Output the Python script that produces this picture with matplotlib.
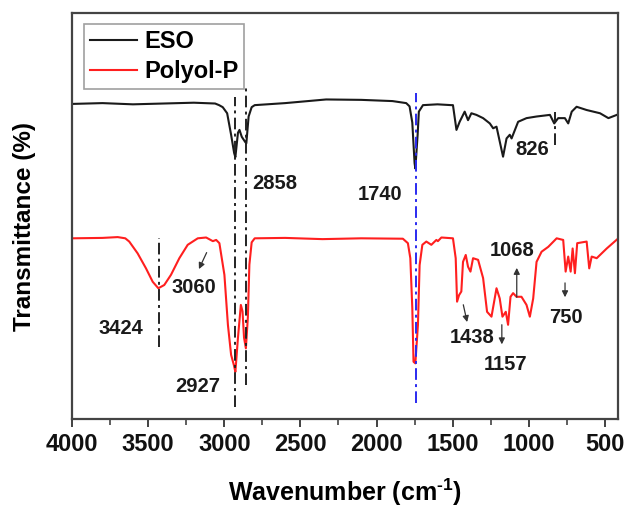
import matplotlib
matplotlib.use('Agg')
import matplotlib.pyplot as plt
from matplotlib.ticker import MultipleLocator

plt.rcParams['font.family'] = ['Liberation Sans', 'DejaVu Sans']
plt.rcParams['font.weight'] = 'bold'
plt.rcParams['mathtext.fontset'] = 'custom'
plt.rcParams['mathtext.rm'] = 'Liberation Sans:bold'
plt.rcParams['mathtext.default'] = 'rm'

# spectra (wavenumber cm-1, relative transmittance)
eso_wn = [4000, 3800, 3600, 3400, 3200, 3060, 3034, 3010, 2981, 2955, 2935, 2927,
          2910, 2900, 2885, 2862, 2855, 2840, 2820, 2800, 2600, 2331, 2100, 1895,
          1805, 1783, 1765, 1750, 1745, 1730, 1722, 1695, 1600, 1508, 1498, 1475,
          1454, 1421, 1399, 1377, 1344, 1300, 1256, 1234, 1212, 1169, 1146, 1125,
          1113, 1070, 1015, 949, 861, 833, 807, 763, 741, 718, 686, 620, 532, 477, 422]
eso_t = [77.6, 77.8, 77.5, 77.7, 77.9, 77.7, 77.3, 76.8, 75.3, 70.0, 65.5, 64.5,
         70.5, 71.2, 69.5, 68.2, 67.9, 74.5, 76.8, 77.3, 77.8, 78.7, 78.6, 78.3,
         77.8, 77.0, 73.0, 63.0, 61.7, 70.0, 75.7, 77.3, 77.5, 77.3, 77.3, 71.2,
         73.2, 75.7, 73.6, 75.3, 74.9, 74.1, 72.8, 71.6, 72.0, 64.6, 69.1, 70.0,
         69.1, 73.2, 74.1, 74.5, 74.9, 72.8, 74.1, 74.1, 72.8, 75.7, 76.9, 76.1,
         75.3, 74.1, 74.9]

pol_wn = [4000, 3800, 3700, 3650, 3624, 3569, 3514, 3470, 3433, 3394, 3350, 3295,
          3240, 3174, 3119, 3075, 3053, 3032, 2999, 2976, 2955, 2937, 2927, 2910,
          2891, 2880, 2870, 2858, 2845, 2835, 2820, 2800, 2600, 2355, 2100, 1827,
          1794, 1778, 1765, 1757, 1745, 1728, 1717, 1699, 1673, 1640, 1607, 1597,
          1574, 1498, 1480, 1471, 1458, 1443, 1432, 1414, 1399, 1383, 1366, 1333,
          1300, 1274, 1245, 1212, 1191, 1173, 1151, 1136, 1120, 1103, 1081, 1048,
          1015, 993, 971, 949, 916, 872, 817, 774, 758, 741, 725, 712, 697, 682,
          620, 603, 587, 554, 488, 412]
pol_t = [44.5, 44.6, 44.8, 44.5, 43.7, 40.8, 37.1, 33.8, 32.2, 33.0, 35.5, 39.6,
         42.9, 44.5, 44.7, 43.8, 44.1, 43.3, 35.5, 23.2, 15.8, 13.3, 11.6, 20.0,
         28.1, 26.5, 20.0, 17.4, 25.0, 38.0, 43.5, 44.5, 44.6, 44.3, 44.5, 44.4,
         43.3, 39.6, 27.3, 14.1, 13.7, 23.2, 37.9, 42.9, 43.7, 42.9, 44.1, 43.8,
         44.7, 44.5, 39.6, 28.9, 30.5, 31.4, 38.7, 40.4, 37.5, 36.3, 39.6, 39.2,
         34.7, 26.4, 25.2, 32.2, 29.7, 25.2, 26.4, 23.2, 30.1, 31.0, 30.1, 30.1,
         28.1, 25.2, 29.7, 38.7, 41.2, 42.4, 44.5, 44.1, 36.3, 40.0, 36.3, 42.0,
         35.9, 43.3, 43.7, 37.1, 40.0, 39.6, 42.0, 44.5]

# marker lines: wavenumber, y from, y to
guide_wn = [3430, 2927, 2858, 826]
guide_lo = [17.7, 3.0, 8.4, 67.5]
guide_hi = [44.6, 79.3, 81.5, 75.6]
c_o_wn, c_o_lo, c_o_hi = 1740, 3.9, 80.3

# peak labels (text, x, y)
peak_text = ['2858', '1740', '826', '3424', '2927']
peak_x = [2818, 1974, 980, 3679, 3172]
peak_y = [58.1, 55.2, 66.3, 22.4, 7.9]

# arrowed labels: text, label pos, arrow tail, arrow head
arr_text = ['3060', '1438', '1157', '1068', '750']
arr_lab = [(3199, 32.3), (1375, 20.0), (1151, 13.3), (1110, 41.6), (756, 25.1)]
arr_tail = [(3108, 41.6), (1434, 28.8), (1177, 23.9), (1079, 29.3), (762, 34.2)]
arr_head = [(3174, 36.3), (1401, 23.2), (1177, 17.7), (1079, 37.9), (762, 29.3)]

fig = plt.figure(figsize=(6.26, 5.07), dpi=100)
ax = fig.add_axes([0.115, 0.1736, 0.872, 0.8008])

ax.plot(eso_wn, eso_t, color='#1a1a1a', lw=1.5, label='ESO')
ax.plot(pol_wn, pol_t, color='#ff1f1f', lw=1.5, label='Polyol-P')

dash = (0, (6, 2.2, 1.5, 2.2))
for w, lo, hi in zip(guide_wn, guide_lo, guide_hi):
    ax.plot([w, w], [lo, hi], color='#222222', lw=1.4, ls=dash)
ax.plot([c_o_wn, c_o_wn], [c_o_lo, c_o_hi], color='#2a2af0', lw=1.4, ls=dash)

for s, x, y in zip(peak_text, peak_x, peak_y):
    ha = 'left' if s == '2858' else 'center'
    ax.text(x, y, s, fontsize=14.5, fontweight='bold', ha=ha, va='center', color='#1a1a1a')

for s, lab, tail, head in zip(arr_text, arr_lab, arr_tail, arr_head):
    ax.annotate('', xy=head, xytext=tail,
                arrowprops=dict(arrowstyle='-|>', color='#333333', lw=0.9, mutation_scale=9))
    ax.text(lab[0], lab[1], s, fontsize=14.5, fontweight='bold', ha='center', va='center',
            color='#1a1a1a')

ax.set_xlim(4000, 415)
ax.set_ylim(0, 100)
ax.xaxis.set_major_locator(MultipleLocator(500))
ax.xaxis.set_minor_locator(MultipleLocator(250))
ax.set_yticks([])
ax.tick_params(axis='x', which='major', direction='out', length=6, width=1.3,
               labelsize=17, pad=4, colors='#333333', labelcolor='#111111')
ax.tick_params(axis='x', which='minor', direction='out', length=4, width=1.1, colors='#333333')
for lbl in ax.get_xticklabels():
    lbl.set_fontweight('bold')
for sp in ax.spines.values():
    sp.set_color('#444444')
    sp.set_linewidth(1.6)

ax.set_xlabel('Wavenumber (cm$^{\\text{-}1}$)', fontsize=18, fontweight='bold')
ax.xaxis.set_label_coords(0.5, -0.143)
ax.set_ylabel('Transmittance (%)', fontsize=17.5, fontweight='bold')
ax.yaxis.set_label_coords(-0.066, 0.475)

leg = ax.legend(loc='upper left', bbox_to_anchor=(0.022, 0.973), borderaxespad=0,
                fancybox=False, edgecolor='#888888', fontsize=17, handlelength=2.0,
                labelspacing=0.3, handletextpad=0.3, borderpad=0.25)
leg.get_frame().set_linewidth(1.2)
for t in leg.get_texts():
    t.set_fontweight('bold')

fig.savefig('out.png', dpi=100)
